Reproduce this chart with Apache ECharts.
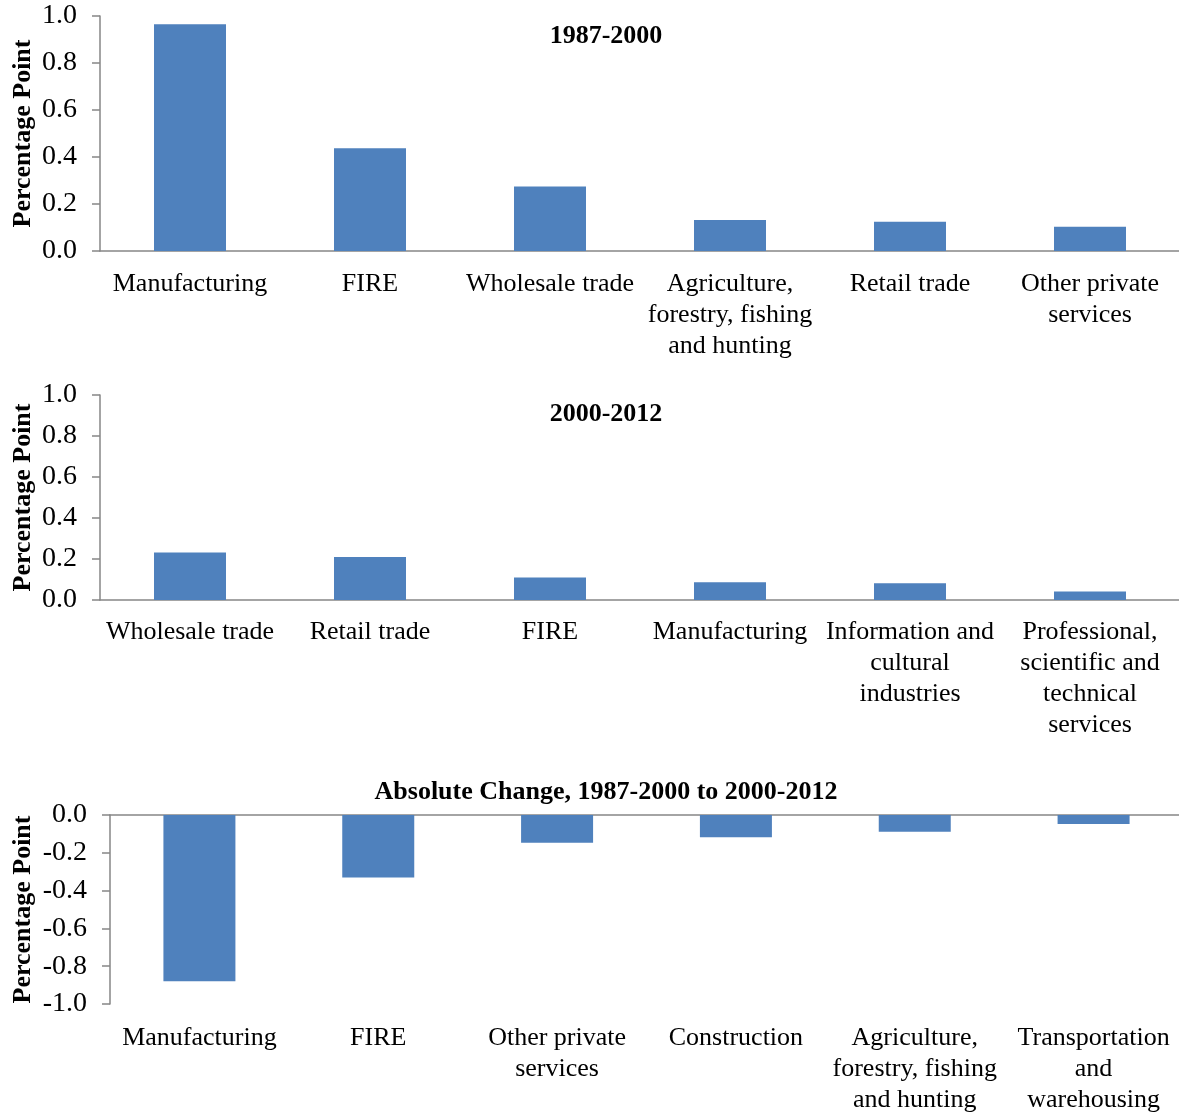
<!DOCTYPE html>
<html>
<head>
<meta charset="utf-8">
<script src="https://cdn.jsdelivr.net/npm/echarts@6/dist/echarts.min.js"></script>
<style>
  html, body { margin: 0; padding: 0; background: #fff; }
  #main { width: 1179px; height: 1113px; }
</style>
</head>
<body>
<div id="main"></div>
<script>
// data
const cats1 = ['Manufacturing', 'FIRE', 'Wholesale trade', 'Agriculture,\nforestry, fishing\nand hunting', 'Retail trade', 'Other private\nservices']
const vals1 = [0.965, 0.437, 0.275, 0.132, 0.124, 0.103]

const cats2 = ['Wholesale trade', 'Retail trade', 'FIRE', 'Manufacturing', 'Information and\ncultural\nindustries', 'Professional,\nscientific and\ntechnical\nservices']
const vals2 = [0.232, 0.21, 0.11, 0.087, 0.082, 0.042]

const cats3 = ['Manufacturing', 'FIRE', 'Other private\nservices', 'Construction', 'Agriculture,\nforestry, fishing\nand hunting', 'Transportation\nand\nwarehousing']
const vals3 = [-0.88, -0.331, -0.147, -0.118, -0.088, -0.048]

const titles = ['1987-2000', '2000-2012', 'Absolute Change, 1987-2000 to 2000-2012']

const font = 'Liberation Serif'
const axisGray = '#868686'
const barColor = '#4F81BD'

const chart = echarts.init(document.getElementById('main'))

function yAxisOpt(gridIndex, min, max, gap) {
  return {
    gridIndex: gridIndex,
    type: 'value',
    min: min,
    max: max,
    interval: 0.2,
    name: 'Percentage Point',
    nameLocation: 'middle',
    nameGap: gap,
    nameMoveOverlap: false,
    nameTextStyle: { fontFamily: font, fontWeight: 'bold', fontSize: 26, color: '#000' },
    axisLine: { show: true, lineStyle: { color: axisGray, width: 1.5 } },
    axisTick: { show: true, length: 8, lineStyle: { color: axisGray, width: 1.5 } },
    splitLine: { show: false },
    axisLabel: {
      margin: 23,
      fontFamily: font, fontSize: 28, color: '#000',
      formatter: v => v.toFixed(1)
    }
  }
}

const catLabel = {
  fontFamily: font, fontSize: 26, color: '#000', lineHeight: 31, interval: 0
}

const option = {
  animation: false,
  graphic: titles.map((t, i) => ({
    type: 'text',
    x: 606,
    y: [36, 414, 792][i],
    style: {
      text: t,
      align: 'center',
      verticalAlign: 'middle',
      font: 'bold 26px "Liberation Serif"',
      fill: '#000'
    }
  })),
  grid: [
    { left: 100, top: 16, width: 1080, height: 235, outerBoundsMode: 'none' },
    { left: 100, top: 395, width: 1080, height: 205, outerBoundsMode: 'none' },
    { left: 110, top: 815, width: 1073, height: 189, outerBoundsMode: 'none' }
  ],
  xAxis: [
    {
      gridIndex: 0, type: 'category', data: cats1,
      axisLine: { lineStyle: { color: axisGray, width: 1.5 } },
      axisTick: { length: 8, lineStyle: { color: axisGray, width: 1.5 } },
      axisLabel: Object.assign({ margin: 18 }, catLabel)
    },
    {
      gridIndex: 1, type: 'category', data: cats2,
      axisLine: { lineStyle: { color: axisGray, width: 1.5 } },
      axisTick: { length: 8, lineStyle: { color: axisGray, width: 1.5 } },
      axisLabel: Object.assign({ margin: 17 }, catLabel)
    },
    {
      gridIndex: 2, type: 'category', data: cats3, position: 'top',
      axisLine: { onZero: false, lineStyle: { color: axisGray, width: 1.5 } },
      axisTick: { inside: true, length: 8, lineStyle: { color: axisGray, width: 1.5 } },
      axisLabel: { show: false }
    },
    {
      gridIndex: 2, type: 'category', data: cats3, position: 'bottom',
      axisLine: { show: false, onZero: false },
      axisTick: { show: false },
      axisLabel: Object.assign({ margin: 19 }, catLabel)
    }
  ],
  yAxis: [
    yAxisOpt(0, 0, 1, 64),
    yAxisOpt(1, 0, 1, 64),
    yAxisOpt(2, -1, 0, 74)
  ],
  series: [
    { type: 'bar', xAxisIndex: 0, yAxisIndex: 0, data: vals1, barWidth: 72, itemStyle: { color: barColor } },
    { type: 'bar', xAxisIndex: 1, yAxisIndex: 1, data: vals2, barWidth: 72, itemStyle: { color: barColor } },
    { type: 'bar', xAxisIndex: 2, yAxisIndex: 2, data: vals3, barWidth: 72, itemStyle: { color: barColor } }
  ]
}

chart.setOption(option)
</script>
</body>
</html>
